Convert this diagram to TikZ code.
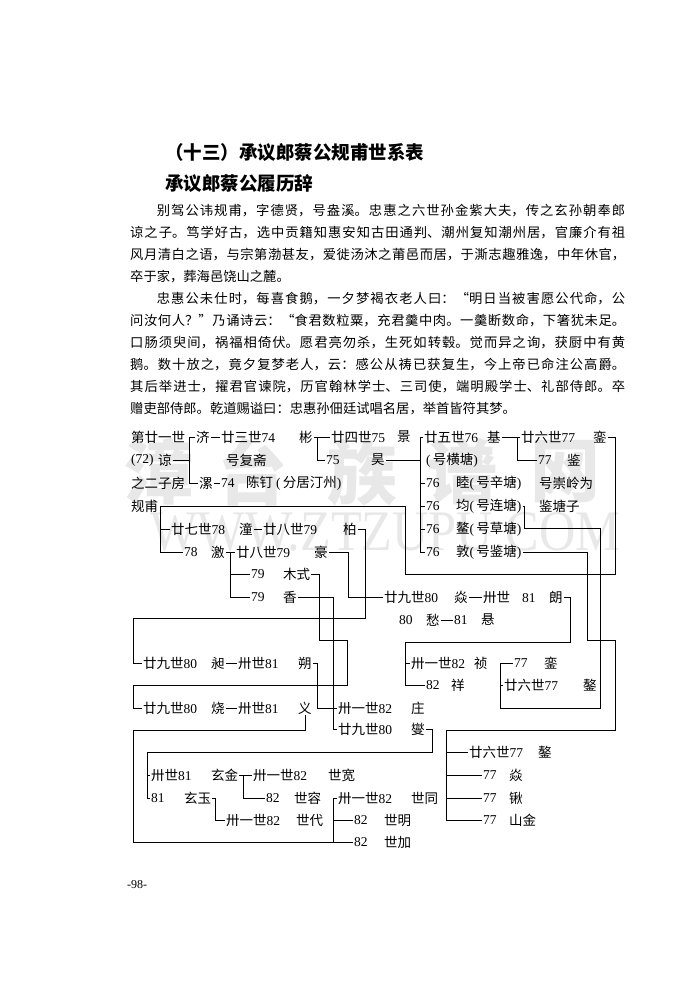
\documentclass[tikz,border=0pt]{standalone}
\usepackage{fontspec}
\setmainfont{Noto Sans CJK SC}
\newfontfamily\numfont{Liberation Serif}
\usetikzlibrary{calc}

\newcommand{\nm}[1]{{\numfont #1}}
\newcommand{\hao}[1]{\nm{(}\,#1\nm{)}}

% row heights of the table
\def\rowA{437}\def\rowB{460}\def\rowC{483}\def\rowD{506}
\def\rowE{529}\def\rowF{552}\def\rowG{574}\def\rowH{597}
\def\rowI{620}\def\rowJ{663}\def\rowK{685}\def\rowL{708}
\def\rowM{729}\def\rowN{752}\def\rowO{775}\def\rowP{798}
\def\rowQ{820}\def\rowR{842}

\tikzset{
  lbl/.style={anchor=west, inner sep=1pt, font=\fontsize{13.5}{13.5}\selectfont},
  link/.style={line width=0.8pt},
  wm/.style={text=black!9, inner sep=0},
}

\begin{document}
\begin{tikzpicture}[x=1pt,y=-1pt]
  \useasboundingbox (0,0) rectangle (700,1000);
  \fill[white] (0,0) rectangle (700,1000);

  % watermark
  \foreach \ch/\cx in {漳/158,台/252,族/362,谱/462,网/565}
    \node[wm, font=\bfseries\fontsize{70}{70}\selectfont] at (\cx,472) {\ch};
  \node[wm, anchor=west] (wmark) at (150,532)
    {\resizebox{470pt}{38pt}{\numfont WWW.ZTZUPU.COM}};

  % headings
  \node[anchor=west, inner sep=0, font=\bfseries\fontsize{18.5}{18.5}\selectfont] (title)
    at (165,152) {（十三）承议郎蔡公规甫世系表};
  \node[anchor=west, inner sep=0, font=\bfseries\fontsize{18.5}{18.5}\selectfont] (subtitle)
    at (165,183) {承议郎蔡公履历辞};

  % text
  \node[anchor=base west, inner sep=0, text width=495pt, align=justify,
        font=\fontsize{13.3}{22.1}\selectfont] (story) at (130,215) {%
    \XeTeXlinebreaklocale "zh"\XeTeXlinebreakskip=0pt plus 3pt
    \hspace*{2em}别驾公讳规甫，字德贤，号盎溪。忠惠之六世孙金紫大夫，传之玄孙朝奉郎\linebreak
    谅之子。笃学好古，选中贡籍知惠安知古田通判、潮州复知潮州居，官廉介有祖\linebreak
    风月清白之语，与宗第渤甚友，爱徙汤沐之莆邑而居，于澌志趣雅逸，中年休官，\linebreak
    卒于家，葬海邑饶山之麓。\par
    \hspace*{2em}忠惠公未仕时，每喜食鹅，一夕梦褐衣老人曰：“明日当被害愿公代命，公\linebreak
    问汝何人？”乃诵诗云：“食君数粒粟，充君羹中肉。一羹断数命，下箸犹未足。\linebreak
    口肠须臾间，祸福相倚伏。愿君亮勿杀，生死如转毂。觉而异之询，获厨中有黄\linebreak
    鹅。数十放之，竟夕复梦老人，云：感公从祷已获复生，今上帝已命注公高爵。\linebreak
    其后举进士，擢君官谏院，历官翰林学士、三司使，端明殿学士、礼部侍郎。卒\linebreak
    赠吏部侍郎。乾道赐谥曰：忠惠孙佃廷试唱名居，举首皆符其梦。};

  % header column
  \node[lbl] (head1) at (130,\rowA) {第廿一世};
  \node[lbl] (head2) at (130,\rowB) {\nm{(72)}};
  \node[lbl] (liang) at (157,\rowB) {谅};
  \node[lbl] (head3) at (130,\rowC) {之二子房};
  \node[lbl] (guifu) at (130,\rowD) {规甫};

  % 73 -- 77
  \node[lbl] (ji) at (195,\rowA) {济};
  \node[lbl] (ta) at (198,\rowC) {漯};
  \node[lbl] (g74a) at (220,\rowA) {廿三世\nm{74}};
  \node[lbl] (bin) at (298,\rowA) {彬};
  \node[lbl] (haofu) at (225,\rowB) {号复斋};
  \node[lbl] (g74b) at (220,\rowC) {\nm{74}};
  \node[lbl] (chending) at (245,\rowC) {陈钉\hspace{3pt}\hao{分居汀州}};
  \node[lbl] (g75a) at (330,\rowA) {廿四世\nm{75}};
  \node[lbl] (jing) at (396,\rowA) {景};
  \node[lbl] (g75b) at (325,\rowB) {\nm{75}};
  \node[lbl] (hao) at (370,\rowB) {昊};
  \node[lbl] (g76a) at (423,\rowA) {廿五世\nm{76}};
  \node[lbl] (jee) at (486,\rowA) {基};
  \node[lbl] (henghao) at (425,\rowB) {\hao{号横塘}};
  \node[lbl] (g76c) at (425,\rowC) {\nm{76}};
  \node[lbl] (mu) at (455,\rowC) {睦\hao{号辛塘}};
  \node[lbl] (g76d) at (425,\rowD) {\nm{76}};
  \node[lbl] (jun) at (455,\rowD) {均\hao{号连塘}};
  \node[lbl] (g76e) at (425,\rowE) {\nm{76}};
  \node[lbl] (ao) at (455,\rowE) {鳌\hao{号草塘}};
  \node[lbl] (g76f) at (425,\rowF) {\nm{76}};
  \node[lbl] (dun) at (455,\rowF) {敦\hao{号鉴塘}};
  \node[lbl] (note1) at (538,\rowC) {号崇岭为};
  \node[lbl] (note2) at (538,\rowD) {鉴塘子};
  \node[lbl] (g77a) at (520,\rowA) {廿六世\nm{77}};
  \node[lbl] (luan) at (592,\rowA) {銮};
  \node[lbl] (g77b) at (537,\rowB) {\nm{77}};
  \node[lbl] (jian) at (566,\rowB) {鉴};

  \draw[link] (liang.east) -- (189,\rowB);
  \draw[link] (ji.west) -| (189,\rowC) -- (ta.west);
  \draw[link] (ji) -- (g74a);
  \draw[link] (ta) -- (g74b);
  \draw[link] (bin) -- (g75a);
  \draw[link] (317,\rowA) |- (g75b.west);
  \draw[link] (hao.east) -- (420,\rowB);
  \draw[link] (g76a.west) -| (420,\rowF) -- (g76f.west);
  \foreach \n in {c,d,e}
    \draw[link] (g76\n.west) -- ++(-5,0);
  \draw[link] (jee) -- (g77a);
  \draw[link] (517,\rowA) |- (g77b.west);

  % 78 -- 81
  \node[lbl] (g78a) at (170,\rowE) {廿七世\nm{78}};
  \node[lbl] (tong) at (238,\rowE) {潼};
  \node[lbl] (g78b) at (183,\rowF) {\nm{78}};
  \node[lbl] (jii) at (210,\rowF) {激};
  \node[lbl] (g79a) at (262,\rowE) {廿八世\nm{79}};
  \node[lbl] (bai) at (342,\rowE) {柏};
  \node[lbl] (g79b) at (235,\rowF) {廿八世\nm{79}};
  \node[lbl] (haoo) at (313,\rowF) {豪};
  \node[lbl] (g79c) at (250,\rowG) {\nm{79}};
  \node[lbl] (shi) at (282,\rowG) {木式};
  \node[lbl] (g79d) at (250,\rowH) {\nm{79}};
  \node[lbl] (xiang) at (282,\rowH) {香};
  \node[lbl] (g80b) at (383,\rowH) {廿九世\nm{80}};
  \node[lbl] (yan) at (453,\rowH) {焱};
  \node[lbl] (g81a) at (482,\rowH) {卅世\hspace{12pt}\nm{81}};
  \node[lbl] (lang) at (548,\rowH) {朗};
  \node[lbl] (g80e) at (398,\rowI) {\nm{80}};
  \node[lbl] (chou) at (425,\rowI) {愁};
  \node[lbl] (g81b) at (453,\rowI) {\nm{81}};
  \node[lbl] (xuan) at (480,\rowI) {悬};

  \draw[link] (luan.east) -| (615,574) -| (405,\rowD) -| (160,\rowF) -- (g78b.west);
  \draw[link] (160,\rowE) -- (g78a.west);
  \draw[link] (tong) -- (g79a);
  \draw[link] (jii) -- (g79b);
  \draw[link] (230,\rowF) |- (g79d.west);
  \draw[link] (230,\rowG) -- (g79c.west);
  \draw[link] (haoo.east) -| (348,\rowH) -- (g80b.west);
  \draw[link] (yan) -- (g81a);
  \draw[link] (chou) -- (g81b);

  % 80 -- 82, left part
  \node[lbl] (g80a) at (142,\rowJ) {廿九世\nm{80}};
  \node[lbl] (chang) at (210,\rowJ) {昶};
  \node[lbl] (g81c) at (237,\rowJ) {卅世\nm{81}};
  \node[lbl] (shuo) at (297,\rowJ) {朔};
  \node[lbl] (g80c) at (142,\rowL) {廿九世\nm{80}};
  \node[lbl] (shao) at (210,\rowL) {烧};
  \node[lbl] (g81d) at (237,\rowL) {卅世\nm{81}};
  \node[lbl] (yi) at (297,\rowL) {义};
  \node[lbl] (g82c) at (337,\rowL) {卅一世\nm{82}};
  \node[lbl] (zhuang) at (410,\rowL) {庄};
  \node[lbl] (g80d) at (337,\rowM) {廿九世\nm{80}};
  \node[lbl] (xie) at (410,\rowM) {燮};

  \draw[link] (bai.east) -| (365,618) -| (133,\rowJ) -- (g80a.west);
  \draw[link] (shi.east) -| (319,640) -| (347,685) -| (133,\rowL) -- (g80c.west);
  \draw[link] (xiang.east) -| (333,\rowM) -- (g80d.west);
  \draw[link] (chang) -- (g81c);
  \draw[link] (shao) -- (g81d);
  \draw[link] (shuo.east) -| (317,\rowL) -- (g82c.west);

  % 82 and 77, right part
  \node[lbl] (g82a) at (410,\rowJ) {卅一世\nm{82}};
  \node[lbl] (zhen) at (473,\rowJ) {祯};
  \node[lbl] (g82b) at (425,\rowK) {\nm{82}};
  \node[lbl] (xiangg) at (450,\rowK) {祥};
  \node[lbl] (g77c) at (513,\rowJ) {\nm{77}};
  \node[lbl] (luann) at (543,\rowJ) {銮};
  \node[lbl] (g77d) at (503,\rowK) {廿六世\nm{77}};
  \node[lbl] (aoo) at (582,\rowK) {鏊};

  \draw[link] (lang.east) -| (570,642) -| (405,\rowK) -- (g82b.west);
  \draw[link] (405,\rowJ) -- (g82a.west);
  \draw[link] (jun.east) -- ++(2,0) |- (600,528) -- (600,708) -| (500,\rowJ) -- (g77c.west);
  \draw[link] (500,\rowK) -- (g77d.west);

  \node[lbl] (g77e) at (468,\rowN) {廿六世\nm{77}};
  \node[lbl] (aooo) at (537,\rowN) {鏊};
  \node[lbl] (g77f) at (482,\rowO) {\nm{77}};
  \node[lbl] (xin) at (508,\rowO) {焱};
  \node[lbl] (g77g) at (482,\rowP) {\nm{77}};
  \node[lbl] (qiao) at (508,\rowP) {锹};
  \node[lbl] (g77h) at (482,\rowQ) {\nm{77}};
  \node[lbl] (shanjin) at (508,\rowQ) {山金};

  \draw[link] (dun.east) -| (587,640) -| (615,730) -| (446,\rowQ) -- (g77h.west);
  \draw[link] (446,\rowN) -- (g77e.west);
  \draw[link] (446,\rowO) -- (g77f.west);
  \draw[link] (446,\rowP) -- (g77g.west);

  % 81 -- 82, bottom
  \node[lbl] (g81e) at (150,\rowO) {卅世\nm{81}};
  \node[lbl] (xuanjin) at (210,\rowO) {玄金};
  \node[lbl] (g81f) at (150,\rowP) {\nm{81}};
  \node[lbl] (xuanyu) at (183,\rowP) {玄玉};
  \node[lbl] (g82d) at (252,\rowO) {卅一世\nm{82}};
  \node[lbl] (shikuan) at (327,\rowO) {世宽};
  \node[lbl] (g82e) at (265,\rowP) {\nm{82}};
  \node[lbl] (shirong) at (293,\rowP) {世容};
  \node[lbl] (g82i) at (225,\rowQ) {卅一世\nm{82}};
  \node[lbl] (shidai) at (295,\rowQ) {世代};
  \node[lbl] (g82f) at (337,\rowP) {卅一世\nm{82}};
  \node[lbl] (shitong) at (410,\rowP) {世同};
  \node[lbl] (g82g) at (353,\rowQ) {\nm{82}};
  \node[lbl] (shiming) at (383,\rowQ) {世明};
  \node[lbl] (g82h) at (353,\rowR) {\nm{82}};
  \node[lbl] (shijia) at (383,\rowR) {世加};

  \draw[link] (xie.east) -| (432,752) -| (147,\rowP) -- (g81f.west);
  \draw[link] (147,\rowO) -- (g81e.west);
  \draw[link] (xuanjin) -- (g82d);
  \draw[link] (243,\rowO) |- (g82e.west);
  \draw[link] (xuanyu.east) -| (215,\rowQ) -- (g82i.west);
  \draw[link] (yi.south) |- (133,730) |- (g82h.west);
  \draw[link] (g82f.west) -| (333,\rowR);
  \draw[link] (333,\rowQ) -- (g82g.west);

  % page number
  \node[anchor=west, inner sep=0, font=\numfont\fontsize{12}{12}\selectfont] (page)
    at (127,885) {-98-};
\end{tikzpicture}
\end{document}
